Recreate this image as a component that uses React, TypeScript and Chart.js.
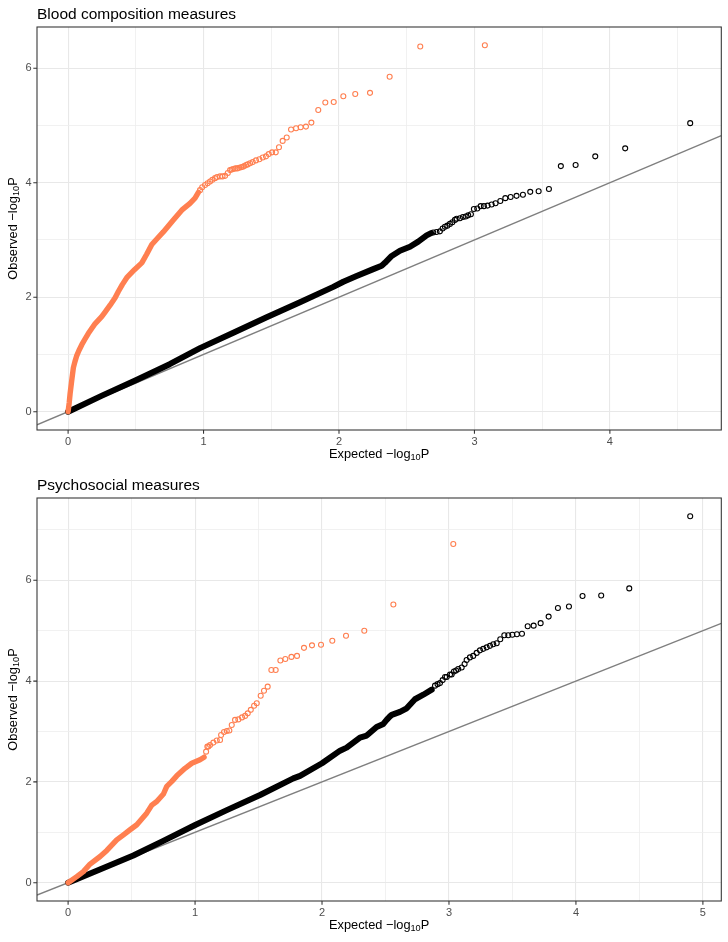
import React, { useEffect, useRef } from "react";
import { Chart, registerables } from "chart.js";

Chart.register(...registerables);

const FONT = '"Liberation Sans", Arial, Helvetica, sans-serif';
const CORAL = "#FF7F50";
const INK = "#000000";

// ---------- titles & ticks ----------
const bloodTitle = "Blood composition measures";
const psychTitle = "Psychosocial measures";
const xTitlePrefix = "Expected ";
const yTitlePrefix = "Observed ";

const bloodXTicks = [0, 1, 2, 3, 4];
const bloodYTicks = [0, 2, 4, 6];
const psychXTicks = [0, 1, 2, 3, 4, 5];
const psychYTicks = [0, 2, 4, 6];

// ---------- Blood composition: black (other) ----------
const bloodOtherBandX = [0, 0.25, 0.5, 0.75, 0.974, 1.22, 1.466, 1.712, 1.958, 2.032, 2.13, 2.253, 2.315, 2.339, 2.389, 2.45, 2.524, 2.585, 2.647, 2.68];
const bloodOtherBandY = [0, 0.28, 0.55, 0.83, 1.11, 1.38, 1.65, 1.91, 2.18, 2.27, 2.37, 2.49, 2.55, 2.6, 2.72, 2.81, 2.88, 2.97, 3.08, 3.12];
const bloodOtherTailX = [2.696, 2.72, 2.745, 2.765, 2.782, 2.8, 2.819, 2.837, 2.856, 2.869, 2.893, 2.915, 2.935, 2.954, 2.974, 2.996, 3.021, 3.046, 3.07, 3.097, 3.127, 3.156, 3.191, 3.228, 3.267, 3.311, 3.358, 3.412, 3.474, 3.55, 3.638, 3.747, 3.892, 4.113, 4.593];
const bloodOtherTailY = [3.13, 3.14, 3.15, 3.2, 3.23, 3.25, 3.28, 3.31, 3.35, 3.37, 3.38, 3.4, 3.41, 3.43, 3.45, 3.54, 3.55, 3.59, 3.59, 3.6, 3.62, 3.64, 3.68, 3.73, 3.75, 3.77, 3.79, 3.84, 3.85, 3.89, 4.29, 4.31, 4.46, 4.6, 5.04];

// ---------- Blood composition: coral (highlighted) ----------
const bloodHiBandX = [0, 0.008, 0.015, 0.027, 0.039, 0.05, 0.064, 0.08, 0.101, 0.125, 0.15, 0.2, 0.248, 0.273, 0.31, 0.347, 0.371, 0.4, 0.433, 0.49, 0.544, 0.58, 0.618, 0.66, 0.703, 0.777, 0.839, 0.9, 0.937, 0.962];
const bloodHiBandY = [0, 0.15, 0.32, 0.55, 0.77, 0.87, 0.98, 1.07, 1.17, 1.27, 1.37, 1.54, 1.66, 1.74, 1.86, 1.99, 2.1, 2.22, 2.34, 2.48, 2.6, 2.75, 2.92, 3.03, 3.14, 3.35, 3.52, 3.64, 3.73, 3.83];
const bloodHiTailX = [0.974, 0.99, 1.011, 1.03, 1.048, 1.065, 1.085, 1.1, 1.122, 1.14, 1.159, 1.179, 1.196, 1.208, 1.22, 1.235, 1.249, 1.263, 1.277, 1.289, 1.301, 1.314, 1.326, 1.343, 1.363, 1.387, 1.412, 1.437, 1.461, 1.481, 1.506, 1.533, 1.557, 1.584, 1.614, 1.646, 1.683, 1.717, 1.756, 1.796, 1.847, 1.899, 1.961, 2.032, 2.12, 2.229, 2.374, 2.6, 3.077];
const bloodHiTailY = [3.87, 3.92, 3.96, 3.99, 4.02, 4.05, 4.08, 4.1, 4.11, 4.11, 4.12, 4.17, 4.22, 4.23, 4.24, 4.25, 4.25, 4.26, 4.27, 4.28, 4.29, 4.31, 4.32, 4.34, 4.36, 4.39, 4.41, 4.44, 4.46, 4.5, 4.53, 4.53, 4.62, 4.73, 4.79, 4.93, 4.95, 4.97, 4.98, 5.05, 5.27, 5.4, 5.41, 5.51, 5.55, 5.57, 5.85, 6.38, 6.4];

// ---------- Psychosocial: black (other) ----------
const psychOtherBandX = [0, 0.25, 0.514, 0.75, 1.005, 1.25, 1.512, 1.774, 1.827, 2.0, 2.142, 2.194, 2.299, 2.352, 2.43, 2.483, 2.509, 2.535, 2.549, 2.614, 2.667, 2.732, 2.798, 2.864];
const psychOtherBandY = [0, 0.26, 0.54, 0.83, 1.15, 1.44, 1.74, 2.07, 2.12, 2.37, 2.62, 2.68, 2.88, 2.92, 3.09, 3.15, 3.23, 3.3, 3.33, 3.39, 3.46, 3.64, 3.73, 3.83];
const psychOtherTailX = [2.89, 2.91, 2.929, 2.95, 2.969, 2.982, 3.008, 3.021, 3.039, 3.056, 3.073, 3.1, 3.123, 3.139, 3.165, 3.191, 3.218, 3.244, 3.27, 3.297, 3.323, 3.349, 3.376, 3.404, 3.436, 3.467, 3.499, 3.535, 3.575, 3.62, 3.667, 3.722, 3.785, 3.858, 3.945, 4.052, 4.199, 4.42, 4.9];
const psychOtherTailY = [3.91, 3.94, 3.96, 4.02, 4.08, 4.08, 4.13, 4.13, 4.19, 4.21, 4.24, 4.27, 4.34, 4.42, 4.47, 4.5, 4.56, 4.61, 4.64, 4.67, 4.7, 4.73, 4.75, 4.83, 4.91, 4.91, 4.92, 4.93, 4.94, 5.09, 5.1, 5.15, 5.28, 5.45, 5.48, 5.69, 5.7, 5.84, 7.27];

// ---------- Psychosocial: coral (highlighted) ----------
const psychHiBandX = [0, 0.068, 0.12, 0.173, 0.252, 0.305, 0.383, 0.436, 0.488, 0.541, 0.619, 0.659, 0.698, 0.751, 0.777, 0.817, 0.856, 0.921, 0.974, 1.039, 1.071];
const psychHiBandY = [0, 0.12, 0.22, 0.37, 0.52, 0.64, 0.85, 0.95, 1.05, 1.15, 1.38, 1.54, 1.61, 1.76, 1.91, 2.01, 2.12, 2.27, 2.37, 2.44, 2.49];
const psychHiTailX = [1.087, 1.097, 1.105, 1.118, 1.144, 1.171, 1.197, 1.205, 1.228, 1.25, 1.27, 1.289, 1.315, 1.341, 1.37, 1.394, 1.415, 1.439, 1.465, 1.486, 1.517, 1.543, 1.572, 1.601, 1.635, 1.672, 1.711, 1.759, 1.803, 1.858, 1.921, 1.992, 2.081, 2.189, 2.333, 2.562, 3.034];
const psychHiTailY = [2.6, 2.7, 2.7, 2.73, 2.78, 2.82, 2.83, 2.93, 2.99, 3.01, 3.02, 3.13, 3.23, 3.24, 3.28, 3.31, 3.36, 3.43, 3.51, 3.56, 3.71, 3.81, 3.89, 4.22, 4.22, 4.41, 4.44, 4.48, 4.5, 4.66, 4.71, 4.72, 4.8, 4.9, 5.0, 5.52, 6.72];

type PanelProps = {
  title: string;
  xTicks: number[];
  yTicks: number[];
  otherBandX: number[]; otherBandY: number[];
  otherTailX: number[]; otherTailY: number[];
  hiBandX: number[]; hiBandY: number[];
  hiTailX: number[]; hiTailY: number[];
};

const zip = (xs: number[], ys: number[]) => xs.map((x, i) => ({ x, y: ys[i] }));

function minorsOf(majors: number[], lo: number, hi: number) {
  const step = majors[1] - majors[0];
  const out: number[] = [];
  const first = majors[0] - step / 2;
  if (first >= lo) out.push(first);
  for (let i = 0; i < majors.length - 1; i++) out.push((majors[i] + majors[i + 1]) / 2);
  const last = majors[majors.length - 1] + step / 2;
  if (last <= hi) out.push(last);
  return out;
}

function drawLogLabel(ctx: CanvasRenderingContext2D, prefix: string, cx: number, baseline: number) {
  const main = `12.8px ${FONT}`;
  const sub = `9.2px ${FONT}`;
  const t1 = prefix + "\u2212log";
  ctx.font = main;
  const w1 = ctx.measureText(t1).width;
  const w3 = ctx.measureText("P").width;
  ctx.font = sub;
  const w2 = ctx.measureText("10").width;
  let x = cx - (w1 + w2 + w3) / 2;
  ctx.textAlign = "left";
  ctx.textBaseline = "alphabetic";
  ctx.fillStyle = "#000000";
  ctx.font = main;
  ctx.fillText(t1, x, baseline);
  x += w1;
  ctx.font = sub;
  ctx.fillText("10", x, baseline + 2.6);
  x += w2;
  ctx.font = main;
  ctx.fillText("P", x, baseline);
}

function QQPanel(p: PanelProps) {
  const ref = useRef<HTMLCanvasElement>(null);
  useEffect(() => {
    const canvas = ref.current!;
    const allX = [...p.otherBandX, ...p.otherTailX, ...p.hiBandX, ...p.hiTailX];
    const allY = [...p.otherBandY, ...p.otherTailY, ...p.hiBandY, ...p.hiTailY];
    const xLo0 = Math.min(...allX), xHi0 = Math.max(...allX);
    const yLo0 = Math.min(...allY), yHi0 = Math.max(...allY);
    const xLo = xLo0 - (xHi0 - xLo0) * 0.05, xHi = xHi0 + (xHi0 - xLo0) * 0.05;
    const yLo = yLo0 - (yHi0 - yLo0) * 0.05, yHi = yHi0 + (yHi0 - yLo0) * 0.05;
    const xMinor = minorsOf(p.xTicks, xLo, xHi);
    const yMinor = minorsOf(p.yTicks, yLo, yHi);
    const xAll = [...p.xTicks, ...xMinor].sort((a, b) => a - b);
    const yAll = [...p.yTicks, ...yMinor].sort((a, b) => a - b);
    const isXMajor = (v: number) => p.xTicks.includes(v);
    const isYMajor = (v: number) => p.yTicks.includes(v);

    const decor = {
      id: "decor",
      afterDatasetsDraw(chart: any) {
        const { ctx, chartArea: a } = chart;
        ctx.save();
        ctx.strokeStyle = "#333333";
        ctx.lineWidth = 1.07;
        ctx.strokeRect(a.left, a.top, a.right - a.left, a.bottom - a.top);
        ctx.restore();
      },
      afterDraw(chart: any) {
        const { ctx, chartArea: a } = chart;
        const xs = chart.scales.x, ys = chart.scales.y;
        ctx.save();
        ctx.strokeStyle = "#333333";
        ctx.lineWidth = 1.07;
        ctx.beginPath();
        p.xTicks.forEach((v) => {
          const px = xs.getPixelForValue(v);
          ctx.moveTo(px, a.bottom);
          ctx.lineTo(px, a.bottom + 3.7);
        });
        p.yTicks.forEach((v) => {
          const py = ys.getPixelForValue(v);
          ctx.moveTo(a.left - 3.7, py);
          ctx.lineTo(a.left, py);
        });
        ctx.stroke();
        // panel title
        ctx.fillStyle = "#000000";
        ctx.font = `15.5px ${FONT}`;
        ctx.textAlign = "left";
        ctx.textBaseline = "alphabetic";
        ctx.fillText(p.title, a.left, 18.5);
        // x title
        drawLogLabel(ctx, xTitlePrefix, (a.left + a.right) / 2, 457.5);
        // y title
        ctx.translate(16.5, (a.top + a.bottom) / 2);
        ctx.rotate(-Math.PI / 2);
        drawLogLabel(ctx, yTitlePrefix, 0, 0);
        ctx.restore();
      },
    };

    const chart = new Chart(canvas, {
      type: "scatter",
      data: {
        datasets: [
          {
            data: zip(p.hiTailX, p.hiTailY),
            order: 1,
            pointRadius: 2.5,
            pointBorderWidth: 1.1,
            pointBackgroundColor: "rgba(0,0,0,0)",
            pointBorderColor: CORAL,
            borderColor: CORAL,
            showLine: false,
          },
          {
            data: zip(p.hiBandX, p.hiBandY),
            order: 2,
            showLine: true,
            pointRadius: 0,
            borderWidth: 5.4,
            borderColor: CORAL,
            borderCapStyle: "round",
            borderJoinStyle: "round",
          },
          {
            data: zip(p.otherTailX, p.otherTailY),
            order: 3,
            pointRadius: 2.5,
            pointBorderWidth: 1.1,
            pointBackgroundColor: "rgba(0,0,0,0)",
            pointBorderColor: INK,
            borderColor: INK,
            showLine: false,
          },
          {
            data: zip(p.otherBandX, p.otherBandY),
            order: 4,
            showLine: true,
            pointRadius: 0,
            borderWidth: 6,
            borderColor: INK,
            borderCapStyle: "round",
            borderJoinStyle: "round",
          },
          {
            data: [
              { x: xLo, y: xLo },
              { x: xHi, y: xHi },
            ],
            order: 5,
            showLine: true,
            pointRadius: 0,
            borderWidth: 1.3,
            borderColor: "#7F7F7F",
          },
        ] as any,
      },
      options: {
        animation: false,
        responsive: false,
        devicePixelRatio: 1,
        events: [],
        layout: { padding: { top: 27, right: 6.7, left: 0, bottom: 0 } },
        plugins: {
          legend: { display: false },
          tooltip: { enabled: false },
          title: { display: false },
        },
        scales: {
          x: {
            type: "linear",
            min: xLo,
            max: xHi,
            afterBuildTicks: (s: any) => {
              s.ticks = xAll.map((v) => ({ value: v }));
            },
            afterFit: (s: any) => {
              s.height = 41;
            },
            border: { display: false },
            grid: {
              drawTicks: false,
              color: (c: any) => (isXMajor(c.tick?.value) ? "#E8E8E8" : "#EEEEEE"),
              lineWidth: (c: any) => (isXMajor(c.tick?.value) ? 1.1 : 0.8),
            },
            ticks: {
              autoSkip: false,
              maxRotation: 0,
              padding: 5,
              color: "#4D4D4D",
              font: { family: FONT, size: 11 },
              callback: (v: any) => (isXMajor(Number(v)) ? String(v) : ""),
            },
          },
          y: {
            type: "linear",
            min: yLo,
            max: yHi,
            afterBuildTicks: (s: any) => {
              s.ticks = yAll.map((v) => ({ value: v }));
            },
            afterFit: (s: any) => {
              s.width = 37;
            },
            border: { display: false },
            grid: {
              drawTicks: false,
              color: (c: any) => (isYMajor(c.tick?.value) ? "#E8E8E8" : "#EEEEEE"),
              lineWidth: (c: any) => (isYMajor(c.tick?.value) ? 1.1 : 0.8),
            },
            ticks: {
              autoSkip: false,
              padding: 5.5,
              color: "#4D4D4D",
              font: { family: FONT, size: 11 },
              callback: (v: any) => (isYMajor(Number(v)) ? String(v) : ""),
            },
          },
        },
      } as any,
      plugins: [decor as any],
    });
    return () => chart.destroy();
  }, []);
  return <canvas ref={ref} width={728} height={471} style={{ display: "block", width: 728, height: 471 }} />;
}

export default function App() {
  return (
    <div style={{ position: "absolute", left: 0, top: 0, width: 728, height: 942, background: "#FFFFFF" }}>
      <QQPanel
        title={bloodTitle}
        xTicks={bloodXTicks}
        yTicks={bloodYTicks}
        otherBandX={bloodOtherBandX}
        otherBandY={bloodOtherBandY}
        otherTailX={bloodOtherTailX}
        otherTailY={bloodOtherTailY}
        hiBandX={bloodHiBandX}
        hiBandY={bloodHiBandY}
        hiTailX={bloodHiTailX}
        hiTailY={bloodHiTailY}
      />
      <QQPanel
        title={psychTitle}
        xTicks={psychXTicks}
        yTicks={psychYTicks}
        otherBandX={psychOtherBandX}
        otherBandY={psychOtherBandY}
        otherTailX={psychOtherTailX}
        otherTailY={psychOtherTailY}
        hiBandX={psychHiBandX}
        hiBandY={psychHiBandY}
        hiTailX={psychHiTailX}
        hiTailY={psychHiTailY}
      />
    </div>
  );
}
